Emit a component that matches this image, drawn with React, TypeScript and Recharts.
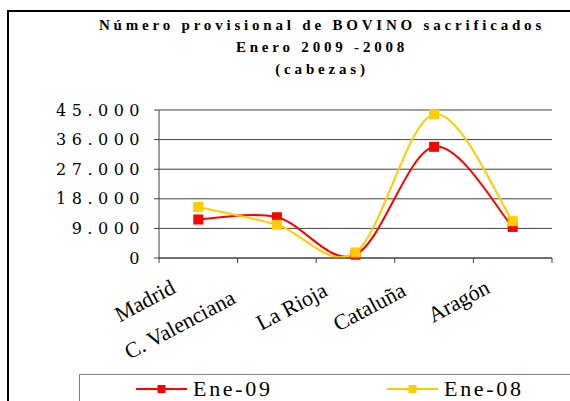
import React from 'react';
import { LineChart, Line, XAxis, YAxis, CartesianGrid, Legend } from 'recharts';

// categories and series
const regions = ['Madrid', 'C. Valenciana', 'La Rioja', 'Cataluña', 'Aragón'];
const ene09 = [11700, 12400, 1000, 33800, 9450];
const ene08 = [15500, 10100, 1700, 43700, 11200];
const yTicks = [0, 9000, 18000, 27000, 36000, 45000];
const seriesNames = ['Ene-09', 'Ene-08'];
const titleLines = [
  'Número provisional de BOVINO sacrificados',
  'Enero 2009 -2008',
  '(cabezas)',
];

const data = regions.map((region, i) => ({ region, ene09: ene09[i], ene08: ene08[i] }));

const RED = '#FF0000';
const GOLD = '#FFCC00';
const AXIS = '#404040';
const TICK_FONT = 'DejaVu Serif, Liberation Serif, serif';
const TEXT_FONT = 'Liberation Serif, Times New Roman, DejaVu Serif, serif';

const W = 570;
const H = 401;
const margin = { top: 110, right: 18, bottom: 83, left: 0 };
const Y_AXIS_W = 159;
const band = (W - margin.left - margin.right - Y_AXIS_W) / regions.length;

// Excel-like smoothed line (Catmull-Rom style bezier through every point)
function excelSmooth(context: any) {
  let pts: number[][] = [];
  return {
    areaStart() {},
    areaEnd() {},
    lineStart() {
      pts = [];
    },
    lineEnd() {
      const n = pts.length;
      if (!n) return;
      context.moveTo(pts[0][0], pts[0][1]);
      for (let i = 0; i < n - 1; i++) {
        const p0 = pts[Math.max(i - 1, 0)];
        const p1 = pts[i];
        const p2 = pts[i + 1];
        const p3 = pts[Math.min(i + 2, n - 1)];
        context.bezierCurveTo(
          p1[0] + (p2[0] - p0[0]) / 6,
          p1[1] + (p2[1] - p0[1]) / 6,
          p2[0] - (p3[0] - p1[0]) / 6,
          p2[1] - (p3[1] - p1[1]) / 6,
          p2[0],
          p2[1]
        );
      }
    },
    point(x: number, y: number) {
      pts.push([+x, +y]);
    },
  };
}

const squareDot = (color: string, size: number) => (props: any) => {
  const { cx, cy, index } = props;
  if (cx == null || cy == null) return <g key={index} />;
  return (
    <rect key={index} x={cx - size / 2} y={cy - size / 2} width={size} height={size} fill={color} />
  );
};

const thousands = (v: number) => String(v).replace(/\B(?=(\d{3})+(?!\d))/g, '.');

const CatTick = (props: any) => {
  const { x, y, payload, index } = props;
  const label = String(payload.value);
  const last = index === regions.length - 1;
  // rotated labels end a little left of the category centre, longer ones further
  const endX = x - (5.6 + label.length * 2.64);
  const endY = y + 34 + (label.length - 6) * 1.5;
  return (
    <g>
      <line x1={x - band / 2} y1={y} x2={x - band / 2} y2={y + 5} stroke={AXIS} />
      {last && <line x1={x + band / 2} y1={y} x2={x + band / 2} y2={y + 5} stroke={AXIS} />}
      <text
        x={endX}
        y={endY}
        textAnchor="end"
        transform={`rotate(-28 ${endX} ${endY})`}
        fontFamily={TEXT_FONT}
        fontSize={22}
        fill="#000"
      >
        {label}
      </text>
    </g>
  );
};

const LegendBox = () => {
  const items = [
    { name: seriesNames[0], color: RED, left: 56 },
    { name: seriesNames[1], color: GOLD, left: 307 },
  ];
  return (
    <div
      style={{
        position: 'relative',
        width: '100%',
        height: '100%',
        border: '1px solid #808080',
        boxSizing: 'border-box',
        background: '#fff',
      }}
    >
      {items.map((it) => (
        <div key={it.name} style={{ position: 'absolute', left: it.left, top: 0, height: 30 }}>
          <svg width={52} height={30} style={{ position: 'absolute', left: 0, top: 0 }}>
            <line x1={0} y1={14} x2={51} y2={14} stroke={it.color} strokeWidth={2} />
            <rect x={21.5} y={10} width={8} height={8} fill={it.color} />
          </svg>
          <span
            style={{
              position: 'absolute',
              left: 57,
              top: 0,
              fontFamily: TEXT_FONT,
              fontSize: 22,
              letterSpacing: 2.7,
              lineHeight: '28px',
              whiteSpace: 'nowrap',
              color: '#000',
            }}
          >
            {it.name}
          </span>
        </div>
      ))}
    </div>
  );
};

export default function App() {
  return (
    <div
      style={{
        position: 'absolute',
        left: 0,
        top: 0,
        width: W,
        height: H,
        overflow: 'hidden',
        background: '#fff',
      }}
    >
      <div
        style={{
          position: 'absolute',
          left: 7,
          top: 10,
          width: 700,
          height: 500,
          border: '2px solid #000',
        }}
      />
      <svg width={W} height={90} style={{ position: 'absolute', left: 0, top: 0 }}>
        {titleLines.map((t, i) => (
          <text
            key={t}
            x={322}
            y={[30, 52, 74][i]}
            textAnchor="middle"
            fontFamily={TEXT_FONT}
            fontWeight="bold"
            fontSize={15}
            letterSpacing={3.8}
            fill="#000"
          >
            {t}
          </text>
        ))}
      </svg>
      <div style={{ position: 'absolute', left: 0, top: 0 }}>
        <LineChart width={W} height={H} data={data} margin={margin}>
          <CartesianGrid vertical={false} stroke={AXIS} strokeWidth={1} />
          <XAxis
            dataKey="region"
            interval={0}
            padding={{ left: band / 2, right: band / 2 }}
            tickSize={0}
            tickMargin={0}
            height={60}
            axisLine={{ stroke: AXIS }}
            tick={CatTick}
          />
          <YAxis
            width={Y_AXIS_W}
            domain={[0, 45000]}
            ticks={yTicks}
            interval={0}
            tickSize={5}
            tickMargin={9}
            axisLine={{ stroke: AXIS }}
            tickLine={{ stroke: AXIS }}
            tickFormatter={thousands}
            tick={{ fontFamily: TICK_FONT, fontSize: 16, letterSpacing: 5.5, fill: '#000' }}
          />
          <Legend
            layout="vertical"
            align="center"
            verticalAlign="middle"
            wrapperStyle={{ position: 'absolute', left: 79, top: 374, width: 560, height: 40 }}
            content={() => <LegendBox />}
          />
          <Line
            dataKey="ene09"
            name={seriesNames[0]}
            type={excelSmooth as any}
            stroke={RED}
            strokeWidth={2}
            dot={squareDot(RED, 10)}
            activeDot={false}
            isAnimationActive={false}
          />
          <Line
            dataKey="ene08"
            name={seriesNames[1]}
            type={excelSmooth as any}
            stroke={GOLD}
            strokeWidth={2}
            dot={squareDot(GOLD, 10)}
            activeDot={false}
            isAnimationActive={false}
          />
        </LineChart>
      </div>
    </div>
  );
}
